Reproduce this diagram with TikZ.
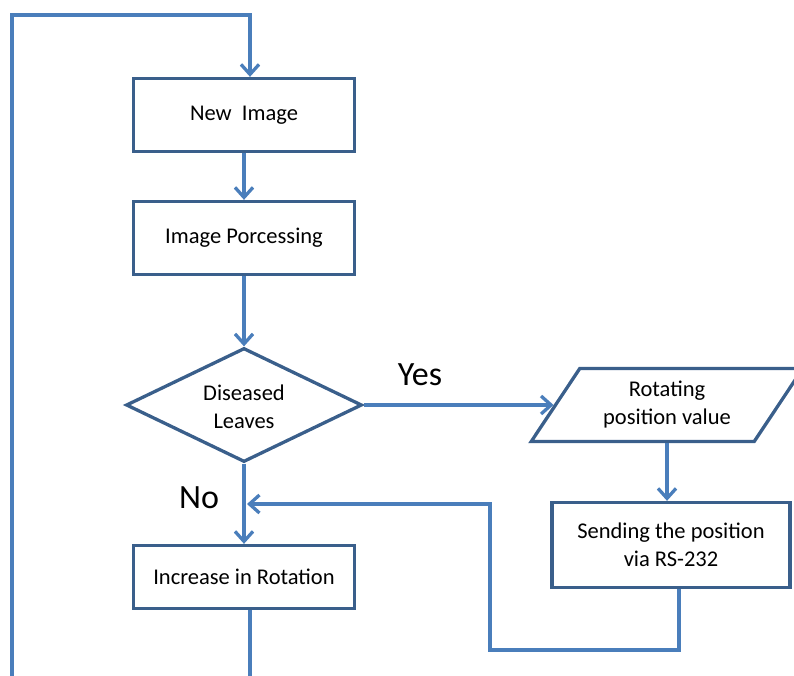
\documentclass[tikz,border=0pt]{standalone}
\usepackage{fontspec}
\setmainfont{Carlito}
\usetikzlibrary{shapes.geometric,arrows.meta}
\definecolor{boxc}{HTML}{3A5F8B}
\definecolor{linec}{HTML}{4A7EBB}
\begin{document}
\begin{tikzpicture}[x=1pt,y=-1pt,
 box/.style={draw=boxc,line width=3.3pt,minimum width=221pt,minimum height=73pt,inner sep=0pt,font=\fontsize{22.5}{28}\selectfont,align=center,fill=white},
 conn/.style={draw=linec,line width=3.3pt},
 arr/.style={conn,-{Straight Barb[length=10pt,width=18pt,line width=3.3pt]}},
 lab/.style={font=\fontsize{34}{38}\selectfont,inner sep=0pt}]
\useasboundingbox (0,0) rectangle (794,676);
\clip (0,0) rectangle (794,676);
\node[box] (new) at (244,115) {New\ \ Image};
\node[box] (proc) at (244,238) {Image Porcessing};
\node[box,diamond,minimum width=236pt,minimum height=114pt] (dia) at (244,405) {\smash{\raisebox{-9pt}{\begin{tabular}{@{}c@{}}Diseased\\Leaves\end{tabular}}}};
\node[box,trapezium,trapezium left angle=53,trapezium right angle=127,trapezium stretches=true,minimum width=272pt,minimum height=73pt] (rot) at (667,405) {Rotating\\position value};
\node[box,minimum width=238pt,minimum height=85pt] (send) at (671,545) {Sending the position\\via RS-232};
\node[box,minimum height=63pt] (inc) at (244,577) {Increase in Rotation};
\node[lab] (yes) at (420,375) {Yes};
\node[lab] (no) at (199,498) {No};
\coordinate (lb) at (12,680);
\coordinate (lt) at (12,15);
\coordinate (rt) at (250,15);
\coordinate (r1) at (679,650);
\coordinate (r2) at (490,650);
\coordinate (r3) at (490,504);
\coordinate (r4) at (247,504);
\coordinate (bb) at (250,680);
\draw[arr] (lb) -- (lt) -- (rt) -- (rt |- new.north);
\draw[arr] (new.south) -- (proc.north);
\draw[arr] (proc.south) -- (dia.north);
\draw[arr] (dia.east) -- (dia.east -| rot.west);
\draw[arr] (rot.south) -- (rot.south |- send.north);
\draw[arr] (dia.south) -- (inc.north);
\draw[arr] (send.south -| r1) -- (r1) -- (r2) -- (r3) -- (r4);
\draw[conn] (inc.south -| bb) -- (bb);
\end{tikzpicture}
\end{document}
